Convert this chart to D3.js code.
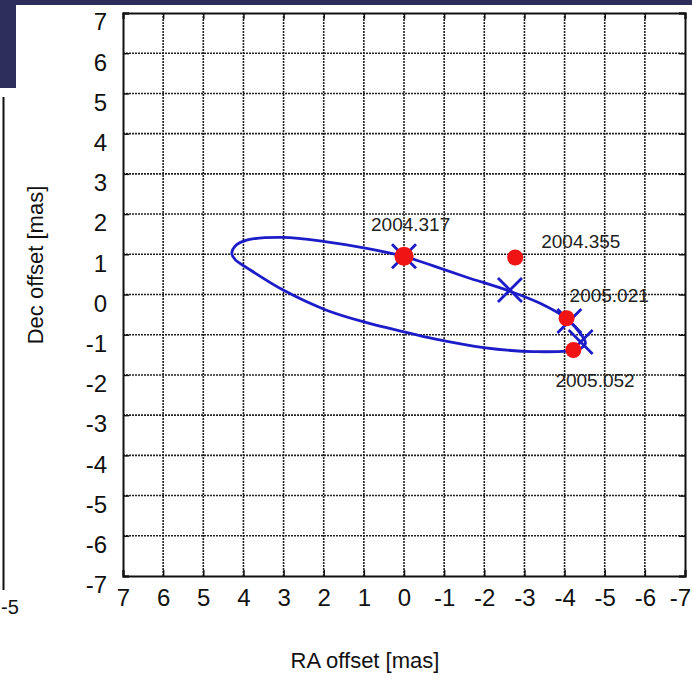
<!DOCTYPE html>
<html>
<head>
<meta charset="utf-8">
<script src="https://cdn.jsdelivr.net/npm/d3@7"></script>
<style>
  html, body { margin: 0; padding: 0; background: #fff; }
  svg { display: block; font-family: "Liberation Sans", Arial, sans-serif; }
</style>
</head>
<body>
<div id="chart"></div>
<script>
// tick labels
var raTicks = [7, 6, 5, 4, 3, 2, 1, 0, -1, -2, -3, -4, -5, -6, -7];
var decTicks = [7, 6, 5, 4, 3, 2, 1, 0, -1, -2, -3, -4, -5, -6, -7];

// orbit (upper branch left to right, then lower branch back)
var orbitRA  = [4.29, 4.21, 3.92, 3.01, 1.93, 0.93, 0.00, -0.73, -1.56, -2.64, -3.39, -4.05, -4.40, -4.52, -4.35, -3.22, -1.98, -0.73, 0.00, 0.93, 1.93, 3.01, 3.92, 4.20];
var orbitDec = [1.02, 1.20, 1.35, 1.42, 1.31, 1.15, 0.95, 0.71, 0.43, 0.08, -0.22, -0.60, -0.98, -1.22, -1.36, -1.42, -1.32, -1.10, -0.93, -0.70, -0.39, 0.11, 0.67, 0.86];

// model positions (blue crosses)
var modelRA  = [0.00, -2.64, -4.12, -4.40];
var modelDec = [0.95, 0.11, -0.66, -1.18];

// observed positions (red dots)
var obsEpoch = ["2004.317", "2004.355", "2005.021", "2005.052"];
var obsRA    = [0.00, -2.77, -4.05, -4.22];
var obsDec   = [0.95, 0.92, -0.59, -1.38];

var width = 692, height = 679;
var margin = {top: 13, right: 7, bottom: 103, left: 123};

var svg = d3.select("#chart").append("svg")
    .attr("width", width)
    .attr("height", height);

// dark slide background showing at the top-left corner
svg.append("rect").attr("x", 0).attr("y", 0).attr("width", width).attr("height", 5).attr("fill", "#2d2f5a");
svg.append("rect").attr("x", 0).attr("y", 0).attr("width", 16).attr("height", 88).attr("fill", "#2d2f5a");

// edge of the neighbouring chart on the left
svg.append("line").attr("x1", 3.5).attr("x2", 3.5).attr("y1", 97).attr("y2", 590)
    .attr("stroke", "#111").attr("stroke-width", 2);
svg.append("text").attr("x", 1).attr("y", 614).attr("text-anchor", "start")
    .attr("font-size", 20).attr("fill", "#111").text("-5");

var x = d3.scaleLinear().domain([7, -7]).range([margin.left, width - margin.right]);
var y = d3.scaleLinear().domain([-7, 7]).range([height - margin.bottom, margin.top]);

var g = svg.append("g");

// dotted grid
g.selectAll(".vgrid").data(raTicks.slice(1, -1)).enter().append("line")
    .attr("class", "vgrid")
    .attr("x1", d => x(d)).attr("x2", d => x(d))
    .attr("y1", y(-7)).attr("y2", y(7))
    .attr("stroke", "#222").attr("stroke-width", 1.6).attr("stroke-dasharray", "2,1");
g.selectAll(".hgrid").data(decTicks.slice(1, -1)).enter().append("line")
    .attr("class", "hgrid")
    .attr("y1", d => y(d)).attr("y2", d => y(d))
    .attr("x1", x(7)).attr("x2", x(-7))
    .attr("stroke", "#222").attr("stroke-width", 1.6).attr("stroke-dasharray", "2,1");

// axes with inward ticks on all four sides
var tk = 6;
var fmt = d => String(d);
var xb = d3.axisBottom(x).tickValues(raTicks).tickSize(-tk).tickPadding(12).tickFormat(fmt);
var xt = d3.axisTop(x).tickValues(raTicks).tickSize(-tk).tickFormat("");
var yl = d3.axisLeft(y).tickValues(decTicks).tickSize(-tk).tickPadding(16).tickFormat(fmt);
var yr = d3.axisRight(y).tickValues(decTicks).tickSize(-tk).tickFormat("");

function style(sel) {
    sel.selectAll("path").attr("stroke", "#111").attr("stroke-width", 2);
    sel.selectAll("line").attr("stroke", "#111").attr("stroke-width", 1.5);
    sel.selectAll("text").attr("fill", "#111").attr("font-size", 24)
        .attr("font-family", "Liberation Sans, Arial, sans-serif");
}
g.append("g").attr("transform", "translate(0," + y(-7) + ")").call(xb).call(style)
    .selectAll("text").attr("dy", "0.75em")
    .attr("dx", d => d === -7 ? -5 : 0);
g.append("g").attr("transform", "translate(0," + y(7) + ")").call(xt).call(style);
var ya = g.append("g").attr("transform", "translate(" + x(7) + ",0)").call(yl).call(style);
ya.selectAll("text").attr("dy", "0.7em");
g.append("g").attr("transform", "translate(" + x(-7) + ",0)").call(yr).call(style);

// axis titles
svg.append("text").attr("x", 365).attr("y", 668).attr("text-anchor", "middle")
    .attr("font-size", 22).attr("fill", "#111").text("RA offset [mas]");
svg.append("text").attr("transform", "translate(43,265) rotate(-90)").attr("text-anchor", "middle")
    .attr("font-size", 22).attr("fill", "#111").text("Dec offset [mas]");

// orbit
var orbit = orbitRA.map((ra, i) => [ra, orbitDec[i]]);
g.append("path")
    .attr("d", d3.line().x(d => x(d[0])).y(d => y(d[1])).curve(d3.curveCatmullRomClosed.alpha(0.5))(orbit))
    .attr("fill", "none").attr("stroke", "#1c1cc8").attr("stroke-width", 2.8);

// model crosses
var xs = 12;
var model = modelRA.map((ra, i) => [ra, modelDec[i]]);
g.selectAll(".cross").data(model).enter().append("path")
    .attr("class", "cross")
    .attr("d", d => {
        var cx = x(d[0]), cy = y(d[1]);
        return "M" + (cx - xs) + "," + (cy - xs) + "L" + (cx + xs) + "," + (cy + xs) +
               "M" + (cx - xs) + "," + (cy + xs) + "L" + (cx + xs) + "," + (cy - xs);
    })
    .attr("stroke", "#1c1cc8").attr("stroke-width", 2.8).attr("fill", "none");

// observed positions
var obs = obsRA.map((ra, i) => ({ra: ra, dec: obsDec[i], epoch: obsEpoch[i]}));
g.selectAll(".obs").data(obs).enter().append("circle")
    .attr("class", "obs")
    .attr("cx", d => x(d.ra)).attr("cy", d => y(d.dec))
    .attr("r", (d, i) => i === 0 ? 9.5 : 8)
    .attr("fill", "#f01414");

// epoch labels, offsets from their dots in pixels
var labelShift = {"2004.317": [-33, -25], "2004.355": [26, -10], "2005.021": [3, -16], "2005.052": [-18, 37]};
g.selectAll(".epoch").data(obs).enter().append("text")
    .attr("class", "epoch")
    .attr("x", d => x(d.ra) + labelShift[d.epoch][0])
    .attr("y", d => y(d.dec) + labelShift[d.epoch][1])
    .attr("font-size", 19).attr("fill", "#222")
    .text(d => d.epoch);
</script>
</body>
</html>
